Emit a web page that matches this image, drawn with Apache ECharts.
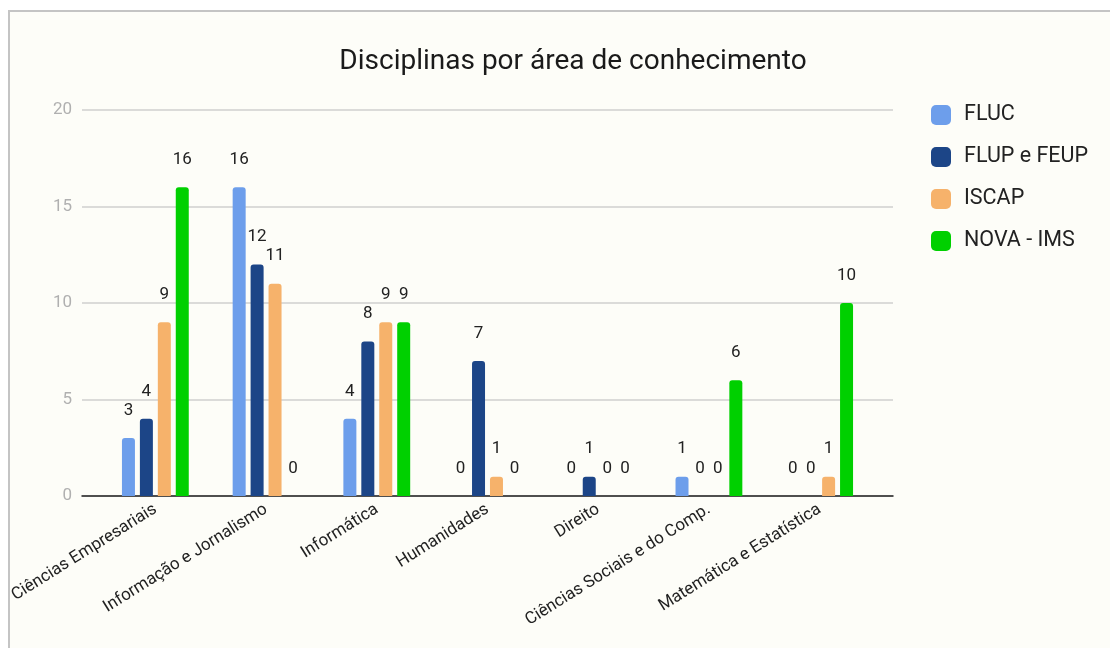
<!DOCTYPE html>
<html>
<head>
<meta charset="utf-8">
<script src="https://cdn.jsdelivr.net/npm/echarts@6/dist/echarts.min.js"></script>
<style>
  html, body { margin: 0; padding: 0; background: #ffffff; width: 1110px; height: 648px; overflow: hidden; }
  #frame { position: absolute; left: 8px; top: 10px; width: 1200px; height: 700px; background: #fdfdf8; border-top: 2px solid #c4c4c4; border-left: 2px solid #c4c4c4; }
  #chart { position: absolute; left: 0; top: 0; width: 1110px; height: 648px; }
</style>
</head>
<body>
<div id="frame"></div>
<div id="chart"></div>
<script>
const categories = ['Ciências Empresariais', 'Informação e Jornalismo', 'Informática', 'Humanidades', 'Direito', 'Ciências Sociais e do Comp.', 'Matemática e Estatística'];
const seriesNames = ['FLUC', 'FLUP e FEUP', 'ISCAP', 'NOVA - IMS'];
const fluc = [3, 16, 4, 0, 0, 1, 0];
const flupFeup = [4, 12, 8, 7, 1, 0, 0];
const iscap = [9, 11, 9, 1, 0, 0, 1];
const novaIms = [16, 0, 9, 0, 0, 6, 10];
const yTicks = [0, 5, 10, 15, 20];

const colors = ['#6d9eeb', '#1c4587', '#f6b26b', '#00d000'];
const values = [fluc, flupFeup, iscap, novaIms];

const chart = echarts.init(document.getElementById('chart'), null, { renderer: 'canvas' });
const font = 'Roboto, "Noto Sans", sans-serif';

chart.setOption({
  backgroundColor: 'transparent',
  animation: false,
  textStyle: { fontFamily: font },
  title: {
    text: 'Disciplinas por área de conhecimento',
    left: 568, top: 43, textAlign: 'center',
    textStyle: { fontSize: 28, fontWeight: 'normal', color: '#1a1a1a', fontFamily: font }
  },
  legend: {
    orient: 'vertical', left: 926, top: 99,
    itemWidth: 20, itemHeight: 20, itemGap: 20,
    icon: 'roundRect',
    data: seriesNames,
    textStyle: { fontSize: 21.5, color: '#222', fontFamily: font, padding: [0, 0, 0, 8] }
  },
  grid: [
    { left: 82, right: 217, top: 110, bottom: 152 },
    { left: 100, right: 235, top: 110, bottom: 152 }
  ],
  xAxis: [
    { gridIndex: 0, type: 'category', data: [''], axisLine: { show: true, lineStyle: { color: '#222', width: 1.5 } }, axisTick: { show: false }, axisLabel: { show: false } },
    { gridIndex: 1, type: 'category', data: categories, axisLine: { show: false }, axisTick: { show: false },
      axisLabel: { rotate: 32, interval: 0, fontSize: 17, color: '#222', margin: 12, fontFamily: font } }
  ],
  yAxis: [
    { gridIndex: 0, type: 'value', min: yTicks[0], max: yTicks[yTicks.length - 1], interval: 5,
      axisLine: { show: false }, axisTick: { show: false },
      axisLabel: { fontSize: 17, color: '#b0b0b0', margin: 10, fontFamily: font },
      splitLine: { lineStyle: { color: '#cfcfcf', width: 1.5 } } },
    { gridIndex: 1, type: 'value', min: 0, max: 20, interval: 5, show: false, splitLine: { show: false } }
  ],
  series: seriesNames.map((name, i) => ({
    name: name,
    type: 'bar',
    xAxisIndex: 1, yAxisIndex: 1,
    data: values[i],
    barWidth: 13,
    barGap: '38%',
    itemStyle: { color: colors[i], borderRadius: [3, 3, 0, 0] },
    label: { show: true, position: 'top', distance: 19, fontSize: 17, color: '#222', fontFamily: font }
  }))
});
</script>
</body>
</html>
